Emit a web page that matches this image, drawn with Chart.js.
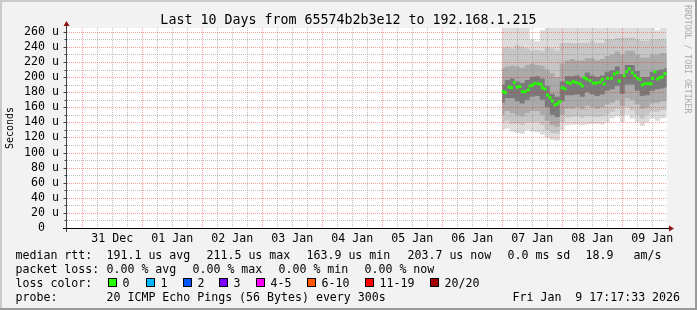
<!DOCTYPE html>
<html>
<head>
<meta charset="utf-8">
<title>Smokeping - Last 10 Days</title>
<script src="https://cdn.jsdelivr.net/npm/chart.js@4.4.1/dist/chart.umd.min.js"></script>
<style>
  html, body { margin: 0; padding: 0; background: #f2f2f2; }
  #wrap { width: 697px; height: 310px; }
</style>
</head>
<body>
<div id="wrap"><canvas id="smoke" width="697" height="310"></canvas></div>
<script>
// x values are hours counted from 31 Dec 00:00
const xTickHours = [12, 36, 60, 84, 108, 132, 156, 180, 204, 228];
const xTickLabels = ["31 Dec", "01 Jan", "02 Jan", "03 Jan", "04 Jan", "05 Jan", "06 Jan", "07 Jan", "08 Jan", "09 Jan"];
const yTickValues = [0, 20, 40, 60, 80, 100, 120, 140, 160, 180, 200, 220, 240, 260];
const yTickLabels = ["0  ", "20 u", "40 u", "60 u", "80 u", "100 u", "120 u", "140 u", "160 u", "180 u", "200 u", "220 u", "240 u", "260 u"];

// median rtt (us)
const medianTime = [168.4, 169.3, 170.7, 171.7, 172.8, 174.0, 175.1, 176.0, 177.1, 178.4, 179.1, 180.1, 181.1, 182.4, 183.5, 184.1, 185.1, 186.1, 187.1, 188.0, 189.1, 190.1, 191.1, 192.0, 193.1, 194.0, 195.1, 196.4, 197.7, 199.1, 200.0, 200.8, 201.7, 203.1, 204.4, 205.7, 207.1, 208.0, 208.8, 210.1, 211.7, 212.8, 214.0, 214.8, 216.8, 217.7, 218.8, 220.0, 221.1, 222.1, 223.1, 224.0, 225.1, 226.4, 227.5, 228.1, 229.1, 230.1, 231.1, 232.0, 233.1];
const medianRtt = [180.6, 179.3, 186.8, 185.9, 192.6, 186.8, 187.3, 180.6, 180.6, 182.9, 188.2, 189.5, 191.7, 191.2, 190.4, 185.9, 184.2, 176.2, 172.7, 168.3, 163.0, 164.7, 167.4, 185.9, 184.2, 193.0, 191.7, 193.9, 192.6, 191.2, 188.2, 199.2, 197.4, 195.2, 192.1, 192.1, 193.0, 197.0, 190.8, 198.3, 198.3, 204.0, 205.8, 194.8, 201.8, 207.1, 211.1, 205.8, 201.8, 198.3, 197.0, 189.5, 191.2, 191.2, 191.2, 198.3, 207.1, 197.4, 199.2, 200.1, 204.5];

// smoke: spread of the 20 pings, outer to inner
const smokeTime = [168, 170, 172, 174, 176, 178, 180, 182, 184, 186, 188, 190, 192, 194, 196, 198, 200, 202, 204, 206, 208, 210, 212, 214, 216, 218, 220, 222, 224, 226, 228, 230, 232, 233.8];
const smokeTop = [265, 265, 265, 265, 265, 265, 250, 247, 262, 265, 265, 265, 265, 265, 265, 265, 265, 265, 265, 265, 265, 265, 265, 265, 265, 265, 265, 265, 265, 265, 265, 262, 265, 265];
const smokeHi2 = [238, 240, 238, 242, 240, 238, 235, 236, 235, 240, 238, 235, 245, 245, 245, 245, 245, 245, 248, 245, 245, 250, 250, 252, 252, 252, 252, 250, 248, 248, 250, 250, 250, 250];
const smokeHi1 = [212, 214, 215, 214, 212, 216, 218, 216, 215, 210, 205, 200, 218, 222, 224, 222, 222, 225, 225, 222, 224, 228, 230, 234, 230, 235, 235, 230, 226, 226, 230, 230, 232, 232];
const smokeHi0 = [190, 196, 198, 194, 192, 196, 200, 201, 198, 188, 178, 174, 194, 201, 201, 202, 199, 206, 202, 200, 202, 207, 209, 214, 204, 216, 216, 208, 200, 200, 207, 209, 210, 212];
const smokeLo0 = [166, 172, 172, 168, 165, 170, 174, 175, 170, 160, 150, 147, 168, 176, 176, 177, 174, 180, 177, 175, 177, 182, 184, 188, 178, 190, 190, 182, 175, 176, 182, 184, 185, 186];
const smokeLo1 = [150, 155, 152, 150, 148, 152, 155, 155, 150, 142, 136, 134, 150, 158, 158, 160, 157, 162, 160, 158, 160, 164, 166, 170, 162, 172, 170, 164, 158, 160, 165, 166, 168, 168];
const smokeLo2 = [140, 142, 138, 138, 136, 140, 140, 140, 136, 130, 126, 125, 140, 146, 147, 148, 146, 148, 148, 147, 148, 150, 154, 158, 150, 160, 156, 150, 145, 150, 154, 154, 156, 156];
const smokeMin = [130, 132, 128, 126, 125, 130, 128, 127, 124, 120, 117, 116, 130, 136, 137, 137, 136, 137, 138, 138, 137, 140, 145, 148, 140, 150, 145, 140, 135, 140, 145, 142, 145, 146];

const lossLabels = ["0", "1", "2", "3", "4-5", "6-10", "11-19", "20/20"];
const lossColors = ["#26ff00", "#00b8ff", "#0059ff", "#7e00ff", "#ff00ff", "#ff5500", "#ff0000", "#a10000"];

const titleText = "Last 10 Days from 65574b2b3e12 to 192.168.1.215";
const statRows = [
  { y: 259, parts: [[16, "median rtt:"], [107, "191.1 us avg"], [207, "211.5 us max"], [307, "163.9 us min"], [408, "203.7 us now"], [508, "0.0 ms sd"], [586, "18.9"], [634, "am/s"]] },
  { y: 273, parts: [[16, "packet loss:"], [107, "0.00 % avg"], [193, "0.00 % max"], [279, "0.00 % min"], [365, "0.00 % now"]] },
  { y: 287, parts: [[16, "loss color:"]] },
  { y: 301, parts: [[16, "probe:"], [107, "20 ICMP Echo Pings (56 Bytes) every 300s"], [513, "Fri Jan  9 17:17:33 2026"]] }
];

const mono = "'DejaVu Sans Mono', 'Liberation Mono', monospace";

// build the smoke bands: lower line + upper line filled down to it
const bands = [
  { lo: smokeMin, hi: smokeTop, color: "#dcdcdc", order: 40 },
  { lo: smokeLo2, hi: smokeHi2, color: "#c6c6c6", order: 30 },
  { lo: smokeLo1, hi: smokeHi1, color: "#aaaaaa", order: 20 },
  { lo: smokeLo0, hi: smokeHi0, color: "#7a7a7a", order: 10 }
];
const toPoints = (xs, ys) => xs.map((x, i) => ({ x: x, y: ys[i] }));

const datasets = [];
bands.forEach((b) => {
  const loIndex = datasets.length;
  const common = {
    borderWidth: 1,
    borderColor: "transparent",
    pointRadius: 0,
    stepped: "middle",
    order: b.order
  };
  datasets.push(Object.assign({ data: toPoints(smokeTime, b.lo), fill: false }, common));
  datasets.push(Object.assign({ data: toPoints(smokeTime, b.hi), fill: loIndex, backgroundColor: b.color }, common));
});
const medianIndex = datasets.length;
datasets.push({
  data: toPoints(medianTime, medianRtt),
  showLine: false,
  pointStyle: "rect",
  pointRadius: 2.1,
  pointBorderWidth: 0,
  pointBackgroundColor: lossColors[0],
  pointBorderColor: lossColors[0],
  order: 0
});

// grid is drawn over the smoke, under the median (like rrdtool)
function drawGrid(chart) {
  const { ctx, chartArea: a, scales: { x, y } } = chart;
  ctx.save();
  ctx.lineWidth = 1;
  ctx.setLineDash([1, 1]);

  ctx.strokeStyle = "rgba(130,130,130,0.5)";
  ctx.beginPath();
  for (let h = -24; h < x.max; h += 6) {
    if (h % 24 === 0) continue;
    const px = Math.round(x.getPixelForValue(h)) + 0.5;
    if (px <= a.left + 1 || px >= a.right) continue;
    ctx.moveTo(px, a.top);
    ctx.lineTo(px, a.bottom);
  }
  for (let v = 10; v < y.max; v += 20) {
    const py = Math.round(y.getPixelForValue(v)) + 0.5;
    ctx.moveTo(a.left, py);
    ctx.lineTo(a.right, py);
  }
  ctx.stroke();

  ctx.strokeStyle = "rgba(255,0,0,0.38)";
  ctx.beginPath();
  for (let h = 0; h < x.max; h += 24) {
    const px = Math.round(x.getPixelForValue(h)) + 0.5;
    ctx.moveTo(px, a.top);
    ctx.lineTo(px, a.bottom);
  }
  yTickValues.forEach((v) => {
    if (v === 0) return;
    const py = Math.round(y.getPixelForValue(v)) + 0.5;
    ctx.moveTo(a.left, py);
    ctx.lineTo(a.right, py);
  });
  ctx.stroke();
  ctx.restore();
}

const rrdLook = {
  id: "rrdLook",
  beforeDraw(chart) {
    const { ctx, chartArea: a, width, height } = chart;
    ctx.save();
    ctx.fillStyle = "#f2f2f2";
    ctx.fillRect(0, 0, width, height);
    ctx.fillStyle = "#cbcbcb";
    ctx.fillRect(0, 0, width, 2);
    ctx.fillRect(0, 0, 2, height);
    ctx.fillStyle = "#999999";
    ctx.fillRect(0, height - 2, width, 2);
    ctx.fillRect(width - 2, 0, 2, height);
    ctx.fillStyle = "#ffffff";
    ctx.fillRect(a.left, a.top, a.right - a.left, a.bottom - a.top);
    ctx.restore();
  },
  beforeDatasetDraw(chart, args) {
    if (args.index === medianIndex) drawGrid(chart);
  },
  afterDraw(chart) {
    const { ctx, chartArea: a, width, scales: { y } } = chart;
    ctx.save();

    // axes
    const ax = Math.round(a.left) - 0.5;
    const ay = Math.round(a.bottom) + 0.5;
    ctx.lineWidth = 1;
    ctx.strokeStyle = "#404040";
    ctx.beginPath();
    ctx.moveTo(ax, a.bottom + 4);
    ctx.lineTo(ax, a.top - 2);
    yTickValues.forEach((v) => {
      const py = Math.round(y.getPixelForValue(v)) + 0.5;
      ctx.moveTo(ax - 3, py);
      ctx.lineTo(ax, py);
    });
    for (let v = 10; v < y.max; v += 20) {
      const py = Math.round(y.getPixelForValue(v)) + 0.5;
      ctx.moveTo(ax - 2, py);
      ctx.lineTo(ax, py);
    }
    ctx.stroke();
    ctx.strokeStyle = "#000000";
    ctx.beginPath();
    ctx.moveTo(a.left - 4, ay);
    ctx.lineTo(a.right + 2, ay);
    ctx.stroke();

    // arrows
    ctx.fillStyle = "#8f1414";
    ctx.beginPath();
    ctx.moveTo(ax - 3, a.top - 2);
    ctx.lineTo(ax + 3, a.top - 2);
    ctx.lineTo(ax, a.top - 7);
    ctx.closePath();
    ctx.fill();
    ctx.beginPath();
    ctx.moveTo(a.right + 2, ay - 3);
    ctx.lineTo(a.right + 2, ay + 3);
    ctx.lineTo(a.right + 7, ay);
    ctx.closePath();
    ctx.fill();

    // title
    ctx.fillStyle = "#000000";
    ctx.font = "13.3px " + mono;
    ctx.textAlign = "center";
    ctx.textBaseline = "alphabetic";
    ctx.fillText(titleText, width / 2, 24);

    // statistics under the graph
    ctx.font = "11.6px " + mono;
    ctx.textAlign = "left";
    statRows.forEach((row) => {
      row.parts.forEach(([px, txt]) => ctx.fillText(txt, px - 0.5, row.y));
    });
    const boxX = [108, 146, 183, 219, 256, 307, 365, 430];
    lossLabels.forEach((lab, i) => {
      ctx.fillStyle = lossColors[i];
      ctx.fillRect(boxX[i], 278, 9, 9);
      ctx.strokeStyle = "#000000";
      ctx.strokeRect(boxX[i] + 0.5, 278.5, 8, 8);
      ctx.fillStyle = "#000000";
      ctx.fillText(lab, boxX[i] + 14.5, 287);
    });

    // watermark
    ctx.translate(687, 5);
    ctx.rotate(Math.PI / 2);
    ctx.font = "8.2px " + mono;
    ctx.fillStyle = "#ababab";
    ctx.textBaseline = "middle";
    ctx.fillText("RRDTOOL / TOBI OETIKER", 0, 0);
    ctx.restore();
  }
};

new Chart(document.getElementById("smoke"), {
  type: "line",
  data: { datasets: datasets },
  options: {
    responsive: false,
    animation: false,
    devicePixelRatio: 1,
    layout: { padding: { top: 28, right: 30, left: 0, bottom: 0 } },
    plugins: {
      legend: { display: false },
      tooltip: { enabled: false },
      title: { display: false }
    },
    scales: {
      x: {
        type: "linear",
        min: -6.1,
        max: 233.9,
        grid: { display: false, drawTicks: false },
        border: { display: false },
        afterBuildTicks: (s) => { s.ticks = xTickHours.map((v) => ({ value: v })); },
        afterFit: (s) => { s.height = 82; },
        ticks: {
          autoSkip: false,
          maxRotation: 0,
          padding: 4,
          color: "#000000",
          font: { family: mono, size: 11.6 },
          callback: (v, i) => xTickLabels[i]
        }
      },
      y: {
        min: 0,
        max: 265,
        grid: { display: false, drawTicks: false },
        border: { display: false },
        afterBuildTicks: (s) => { s.ticks = yTickValues.map((v) => ({ value: v })); },
        afterFit: (s) => { s.width = 67; },
        title: {
          display: true,
          text: "Seconds",
          color: "#000000",
          font: { family: mono, size: 10 },
          padding: { top: 4.5, bottom: 0 }
        },
        ticks: {
          autoSkip: false,
          padding: 8,
          color: "#000000",
          font: { family: mono, size: 11.6 },
          callback: (v, i) => yTickLabels[i]
        }
      }
    }
  },
  plugins: [rrdLook]
});
</script>
</body>
</html>
